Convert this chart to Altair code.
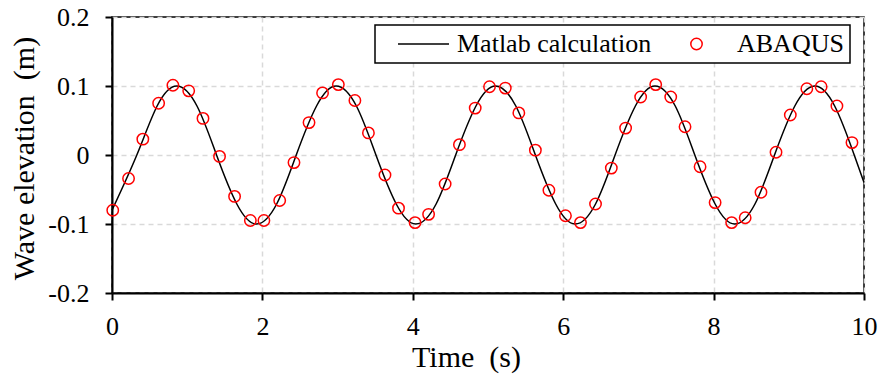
import altair as alt
import pandas as pd

# Matlab calculation curve (knots)
line_time = [0.00, 0.33, 0.60, 0.86, 1.13, 1.39, 1.66, 1.92, 2.19, 2.45, 2.72, 2.98,
             3.25, 3.51, 3.78, 4.04, 4.31, 4.57, 4.84, 5.10, 5.37, 5.63, 5.90, 6.16,
             6.43, 6.69, 6.96, 7.22, 7.49, 7.75, 8.02, 8.28, 8.55, 8.81, 9.08, 9.34,
             9.61, 9.87, 10.00]
line_elev = [-0.080, 0.000, 0.071, 0.100, 0.071, 0.000, -0.071, -0.100, -0.071, 0.000,
             0.071, 0.100, 0.071, 0.000, -0.071, -0.100, -0.071, 0.000, 0.071, 0.100,
             0.071, 0.000, -0.071, -0.100, -0.071, 0.000, 0.071, 0.100, 0.071, 0.000,
             -0.071, -0.100, -0.071, 0.000, 0.071, 0.100, 0.071, 0.000, -0.040]

# ABAQUS points
abaqus_time = [0.01, 0.22, 0.41, 0.62, 0.81, 1.02, 1.21, 1.43, 1.63, 1.84, 2.02, 2.23,
               2.42, 2.62, 2.80, 3.01, 3.23, 3.41, 3.63, 3.81, 4.03, 4.21, 4.43, 4.62,
               4.83, 5.02, 5.23, 5.41, 5.63, 5.81, 6.03, 6.23, 6.43, 6.64, 6.83, 7.03,
               7.23, 7.43, 7.62, 7.82, 8.02, 8.24, 8.42, 8.63, 8.83, 9.02, 9.24, 9.43,
               9.64, 9.84]
abaqus_elev = [-0.080, -0.034, 0.023, 0.075, 0.101, 0.093, 0.053, -0.002, -0.060, -0.095,
               -0.095, -0.066, -0.011, 0.047, 0.090, 0.102, 0.079, 0.032, -0.029, -0.077,
               -0.098, -0.086, -0.042, 0.015, 0.068, 0.099, 0.097, 0.061, 0.007, -0.051,
               -0.088, -0.098, -0.071, -0.019, 0.039, 0.084, 0.102, 0.084, 0.041, -0.017,
               -0.069, -0.098, -0.091, -0.054, 0.004, 0.058, 0.096, 0.099, 0.071, 0.018]

series_names = ["Matlab calculation", "ABAQUS"]
series_colors = ["black", "#ff0000"]
series_shapes = ["M-0.536,0L0.942,0",
                 "M0.165,0A0.165,0.165,0,1,1,-0.165,0A0.165,0.165,0,1,1,0.165,0Z"]

x_ticks = [0, 2, 4, 6, 8, 10]
y_ticks = [-0.2, -0.1, 0, 0.1, 0.2]

FONT = "Liberation Serif"
SYM = 4761
NB = "\u00a0"

line_df = pd.DataFrame({"t": line_time, "y": line_elev})
pts_df = pd.DataFrame({"t": abaqus_time, "y": abaqus_elev, "series": ["ABAQUS"] * len(abaqus_time)})

x_enc = alt.X("t:Q", scale=alt.Scale(domain=[0, 10], nice=False),
              axis=alt.Axis(values=x_ticks, format="d", title="Time" + NB + NB + "(s)",
                            titleX=354, titleY=73, titleBaseline="alphabetic",
                            labelBaseline="alphabetic", labelPadding=34, labelFlush=False,
                            labelFont=FONT, labelFontSize=26, titleFont=FONT))
y_enc = alt.Y("y:Q", scale=alt.Scale(domain=[-0.2, 0.2], nice=False),
              axis=alt.Axis(values=y_ticks, title="Wave elevation" + NB + NB + "(m)",
                            labelExpr="datum.value == 0 ? '0' : (datum.value < 0 ? '-' + format(-datum.value, '.1f') : format(datum.value, '.1f'))",
                            titleX=-79, titleY=141, titleBaseline="alphabetic",
                            labelPadding=16, labelFlush=False,
                            labelFont=FONT, labelFontSize=26, titleFont=FONT))

legend = alt.Legend(title=None, orient="none", legendX=263, legendY=8,
                    direction="horizontal", columns=2, columnPadding=9,
                    labelFont=FONT, labelFontSize=26, labelColor="black",
                    labelLimit=400, labelOffset=5, padding=6, clipHeight=26,
                    symbolSize=SYM, symbolStrokeWidth=1.5,
                    fillColor="white", strokeColor="black")

line = alt.Chart(line_df).mark_line(color="black", strokeWidth=1.5, interpolate="natural").encode(
    x=x_enc, y=y_enc)

points = alt.Chart(pts_df).mark_point(filled=False, size=SYM, strokeWidth=1.5, opacity=1).encode(
    x=x_enc, y=y_enc,
    color=alt.Color("series:N", scale=alt.Scale(domain=series_names, range=series_colors), legend=legend),
    shape=alt.Shape("series:N", scale=alt.Scale(domain=series_names, range=series_shapes), legend=legend),
)

chart = alt.layer(line, points).properties(
    width=752, height=276,
    autosize=alt.AutoSizeParams(type="none"),
    padding={"left": 112, "top": 17, "right": 19, "bottom": 86},
    background="white",
).configure(
    font=FONT
).configure_axis(
    domainColor="black", domainWidth=2, tickColor="black", tickWidth=2, tickSize=7,
    gridColor="#d9d9d9", gridDash=[5, 4], gridWidth=1.5,
    labelFont=FONT, labelFontSize=26, labelColor="black",
    titleFont=FONT, titleFontSize=30, titleFontWeight="normal", titleColor="black",
).configure_view(
    stroke="black", strokeWidth=1.5
).configure_legend(
    strokeWidth=1.5
)

chart.save("out.html", embed_options={"renderer": "svg", "actions": False})
